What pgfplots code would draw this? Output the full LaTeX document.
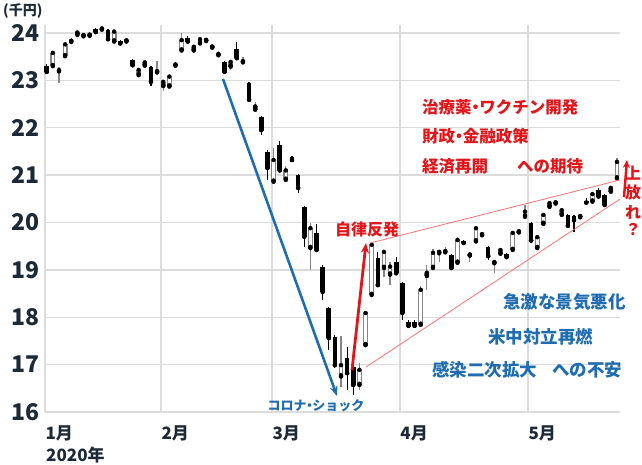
\documentclass[border=0pt]{standalone}
\usepackage{fontspec}
\setmainfont{Noto Sans CJK JP}
\usepackage{pgfplots}
\pgfplotsset{compat=1.18}
\usepackage{pgfplotstable}
\usetikzlibrary{arrows.meta}

\definecolor{ink}{HTML}{1B2A36}
\definecolor{jred}{HTML}{E0161B}
\definecolor{jblue}{HTML}{1F6DB0}
\definecolor{gridgray}{HTML}{DCDCDC}
\definecolor{candlegray}{HTML}{858585}
\newcommand{\nakaguro}{\kern-0.27em・\kern-0.27em}

% trading-day index, open, high, low, close (thousand yen)
\pgfplotstableread{
x o h l c
0 23.31 23.34 23.16 23.18
8 24.08 24.10 24.02 24.02
10 24.06 24.08 23.86 23.87
12 23.84 23.86 23.77 23.78
14 23.43 23.45 23.31 23.32
17 23.29 23.30 22.88 22.97
23 23.90 23.93 23.81 23.82
29 23.39 23.41 23.17 23.18
31 23.66 23.80 23.46 23.47
33 22.94 22.96 22.58 22.59
35 22.23 22.25 21.85 21.95
36 21.49 21.52 20.90 21.15
38 21.64 21.73 21.08 21.10
40 21.38 21.40 21.30 21.32
41 21.00 21.02 20.62 20.73
42 20.33 20.35 19.49 19.70
44 19.78 19.97 19.40 19.42
45 19.07 19.10 18.36 18.54
46 18.20 18.22 17.30 17.56
47 17.59 17.62 16.93 16.99
49 17.14 17.38 16.46 16.82
50 16.96 17.03 16.36 16.57
54 19.25 19.38 18.66 18.68
57 19.17 19.28 18.90 18.93
58 18.72 18.74 17.94 18.09
59 17.91 17.95 17.78 17.82
60 17.91 17.95 17.77 17.82
66 19.31 19.34 19.02 19.04
68 19.60 19.63 19.55 19.57
72 19.48 19.50 19.21 19.29
75 19.34 19.36 19.26 19.27
79 20.00 20.02 19.60 19.62
85 20.16 20.19 19.91 19.93
86 20.14 20.16 19.80 20.05
88 20.45 20.52 20.40 20.42
90 20.69 20.72 20.53 20.55
91 20.58 20.60 20.35 20.37
}\blackc

\pgfplotstableread{
x o h l c
1 23.30 23.60 23.28 23.58
2 23.19 23.29 22.94 23.21
3 23.51 23.78 23.50 23.76
4 23.81 23.89 23.78 23.83
5 23.96 24.03 23.95 24.01
6 23.93 23.97 23.90 23.95
7 23.94 23.97 23.92 23.96
9 24.07 24.12 24.06 24.09
11 23.82 24.04 23.80 24.03
13 23.82 23.87 23.76 23.84
15 23.11 23.24 23.09 23.22
16 23.31 23.40 23.29 23.38
18 23.17 23.41 23.12 23.19
19 22.88 22.98 22.78 22.97
20 22.87 23.10 22.85 23.08
21 23.31 23.36 23.28 23.33
22 23.63 24.00 23.60 23.85
24 23.63 23.73 23.60 23.71
25 23.78 23.89 23.76 23.87
26 23.83 23.86 23.80 23.85
27 23.69 23.73 23.65 23.71
28 23.53 23.62 23.50 23.55
30 23.29 23.42 23.22 23.39
32 23.38 23.50 23.36 23.40
34 22.38 22.55 22.35 22.45
37 20.86 21.57 20.82 21.32
39 20.90 21.20 20.86 21.10
43 19.46 19.99 19.00 19.88
48 16.75 17.60 16.53 16.99
51 16.57 17.03 16.46 16.89
52 17.41 18.10 17.40 18.09
53 18.47 19.55 18.45 19.53
55 19.04 19.40 18.86 19.38
56 18.90 19.17 18.68 19.07
61 17.84 18.65 17.82 18.58
62 18.87 19.10 18.58 18.94
63 19.04 19.44 19.02 19.36
64 19.35 19.39 19.17 19.38
65 19.37 19.49 19.35 19.39
67 19.15 19.69 19.13 19.63
69 19.30 19.33 19.17 19.32
70 19.60 19.92 19.58 19.88
71 19.73 19.78 19.70 19.75
73 19.14 19.18 18.93 19.16
74 19.34 19.44 19.32 19.42
76 19.42 19.80 19.40 19.78
77 19.79 19.83 19.77 19.81
78 20.12 20.37 20.10 20.23
80 19.46 19.70 19.44 19.69
81 19.97 20.18 19.95 20.16
82 20.33 20.43 20.31 20.41
83 20.40 20.44 20.38 20.42
84 20.16 20.28 20.14 20.26
87 20.11 20.15 20.08 20.13
89 20.44 20.62 20.42 20.60
92 20.65 20.76 20.63 20.73
93 20.93 21.36 20.90 21.28
}\whitec

\begin{document}
\begin{tikzpicture}
\useasboundingbox (-45pt,-52pt) rectangle (597pt,412pt);
\begin{axis}[
    scale only axis,
    width=575pt, height=387pt,
    xmin=-0.28, xmax=93.5,
    ymin=16, ymax=24.169,
    axis line style={draw=none},
    major tick length=0pt,
    ytick={16,17,18,19,20,21,22,23,24},
    xtick={-0.28,18.65,36.75,57.6,78.5},
    xticklabels={1月,2月,3月,4月,5月},
    grid=major,
    grid style={gridgray, line width=1.4pt},
    /pgf/number format/assume math mode=true,
    yticklabel style={font=\fontsize{23}{25}\selectfont\bfseries, text=ink, xshift=-2pt},
    xticklabel style={font=\fontsize{17}{19}\selectfont\bfseries, text=ink, anchor=north west, xshift=-3pt, yshift=-10pt},
    clip=false,
]
% wicks
\addplot[only marks, mark=none, forget plot, error bars/.cd, y dir=both, y explicit, error mark=none,
    error bar style={draw=candlegray, line width=1.2pt}]
    table[x=x, y=c, y error plus expr=\thisrow{h}-\thisrow{c}, y error minus expr=\thisrow{c}-\thisrow{l}] {\whitec};
\addplot[only marks, mark=none, forget plot, error bars/.cd, y dir=both, y explicit, error mark=none,
    error bar style={draw=black, line width=1.2pt}]
    table[x=x, y=c, y error plus expr=\thisrow{h}-\thisrow{c}, y error minus expr=\thisrow{c}-\thisrow{l}] {\blackc};
% bodies
\addplot[only marks, mark=none, forget plot, error bars/.cd, y dir=plus, y explicit, error mark=none,
    error bar style={draw=black, line width=4.6pt}]
    table[x=x, y=c, y error plus expr=\thisrow{o}-\thisrow{c}] {\blackc};
\addplot[only marks, mark=none, forget plot, error bars/.cd, y dir=plus, y explicit, error mark=none,
    error bar style={draw=candlegray, line width=4.8pt}]
    table[x=x, y=o, y error plus expr=\thisrow{c}-\thisrow{o}] {\whitec};
\addplot[only marks, mark=none, forget plot, error bars/.cd, y dir=plus, y explicit, error mark=none,
    error bar style={draw=white, line width=2.6pt}]
    table[x=x, y expr=\thisrow{o}+0.025, y error plus expr={max(\thisrow{c}-\thisrow{o}-0.05,0)}] {\whitec};
\end{axis}

% annotations (pt relative to the plot area's lower left corner)
\draw[jblue, line width=2.6pt, -{Stealth[length=10pt,width=8pt]}] (178pt,333pt) -- (292pt,16pt);
\draw[red!55, line width=0.8pt] (325pt,169pt) -- (575pt,232pt);
\draw[red!55, line width=0.8pt] (321pt,45pt) -- (575pt,213pt);
\draw[jred, line width=2.8pt, -{Stealth[length=10pt,width=8pt]}] (307pt,42pt) -- (321pt,169pt);
\draw[jred, line width=2.5pt, -{Stealth[length=8pt,width=7pt]}] (579pt,215pt) -- (582pt,252pt);

\node[font=\fontsize{14}{16}\selectfont\bfseries, text=ink, anchor=west, inner sep=0pt] at (-42pt,401pt) {(千円)};
\node[font=\fontsize{17}{19}\selectfont\bfseries, text=ink, anchor=west, inner sep=0pt] at (1pt,-43pt) {2020年};

\node[font=\fontsize{13}{15}\selectfont\bfseries, text=jblue, inner sep=0pt] at (271pt,6pt) {コロナ\nakaguro ショック};
\node[font=\fontsize{16}{18}\selectfont\bfseries, text=jred, inner sep=0pt] at (322pt,183pt) {自律反発};

\begin{scope}[every node/.style={font=\fontsize{16.5}{18}\selectfont\bfseries, text=jred, anchor=west, inner sep=0pt}]
\node at (377pt,305pt) {治療薬\nakaguro ワクチン開発};
\node at (377pt,276pt) {財政\nakaguro 金融政策};
\node at (377pt,246pt) {経済再開};
\node at (472pt,246pt) {への期待};
\end{scope}

\begin{scope}[every node/.style={font=\fontsize{16}{18}\selectfont\bfseries, text=jred, inner sep=0pt}]
\node at (588pt,239pt) {上};
\node at (588pt,220pt) {放};
\node at (588pt,200pt) {れ};
\node at (588pt,182pt) {？};
\end{scope}

\begin{scope}[every node/.style={font=\fontsize{17.5}{19}\selectfont\bfseries, text=jblue, anchor=west, inner sep=0pt}]
\node at (458pt,110pt) {急激な景気悪化};
\node at (443pt,75pt) {米中対立再燃};
\node at (387pt,42pt) {感染二次拡大};
\node at (507pt,42pt) {への不安};
\end{scope}
\end{tikzpicture}
\end{document}
